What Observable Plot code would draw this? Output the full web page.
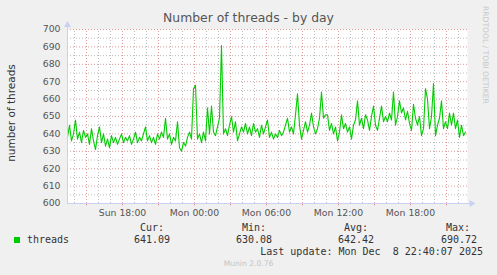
<!DOCTYPE html>
<html>
<head>
<meta charset="utf-8">
<script src="https://cdn.jsdelivr.net/npm/d3@7"></script>
<script src="https://cdn.jsdelivr.net/npm/@observablehq/plot@0.6"></script>
<style>
  html, body { margin: 0; padding: 0; background: #f0f0f0; }
  #wrap { position: relative; width: 497px; height: 275px; overflow: hidden; background: #f0f0f0; }
  .t { position: absolute; white-space: pre; line-height: 1; }
  .mono { font-family: "DejaVu Sans Mono", monospace; font-size: 10px; color: #333; }
  #chart { position: absolute; left: 0; top: 0; }
</style>
</head>
<body>
<div id="wrap">
  <div id="chart"></div>
  <div class="t" id="title" style="left:0;width:497px;text-align:center;top:12px;font-family:'DejaVu Sans';font-size:12.4px;color:#555;">Number of threads - by day</div>
  <div class="t" id="ylabel" style="left:11px;top:113px;font-family:'DejaVu Sans';font-size:10.5px;color:#333;transform:translate(-50%,-50%) rotate(-90deg);">number of threads</div>
  <div class="t" style="left:481px;top:6px;font-family:'DejaVu Sans';font-size:7.6px;color:#c8c8c8;writing-mode:vertical-rl;">RRDTOOL / TOBI OETIKER</div>
  <div id="legend"></div>
  <div class="t" style="left:0;width:497px;text-align:center;top:260px;font-family:'DejaVu Sans';font-size:7.6px;color:#c4c4c4;">Munin 2.0.76</div>
</div>
<script>
// ---- data ----
const seriesName = "threads";
const startTime = "2025-12-07T13:25:00Z"; // first sample
const stepMinutes = 10;
const threads = [
  638, 645, 636, 640, 648, 637, 641, 635, 642, 638,
  640, 634, 643, 636, 631, 639, 644, 635, 640, 633,
  637, 632, 639, 635, 638, 634, 637, 640, 635, 638,
  636, 639, 634, 637, 641, 635, 638, 636, 640, 644,
  636, 639, 635, 638, 634, 640, 637, 641, 638, 649,
  637, 640, 634, 638, 636, 647, 632, 630.08, 635, 633,
  638, 641, 637, 666, 668, 637, 640, 635, 641, 636,
  655, 640, 656, 641, 639, 644, 649, 690.72, 640, 643,
  639, 645, 650, 641, 647, 636, 640, 644, 641, 646,
  640, 644, 639, 646, 641, 643, 638, 645, 640, 644,
  648, 638, 641, 637, 640, 638, 642, 639, 641, 645,
  649, 641, 644, 640, 651, 663, 645, 637, 642, 647,
  641, 645, 652, 644, 640, 643, 649, 664, 649, 651,
  651, 642, 646, 640, 644, 636, 641, 651, 643, 646,
  641, 644, 637, 645, 648, 659, 645, 649, 643, 651,
  648, 642, 650, 656, 645, 642, 649, 656, 647, 650,
  647, 652, 648, 664, 645, 650, 659, 652, 655, 648,
  653, 646, 642, 657, 649, 645, 650, 639, 643, 666,
  660, 643, 650, 669, 639, 645, 649, 659, 643, 647,
  643, 652, 645, 652, 643, 648, 638, 645, 639, 641.09
];
const domainStart = "2025-12-07T13:25:00Z";
const domainEnd = "2025-12-08T22:45:00Z";
const xTickTimes = ["2025-12-07T18:00:00Z", "2025-12-08T00:00:00Z", "2025-12-08T06:00:00Z", "2025-12-08T12:00:00Z", "2025-12-08T18:00:00Z"];
const yTicks = [600, 610, 620, 630, 640, 650, 660, 670, 680, 690, 700];
const legendLabels = ["Cur:", "Min:", "Avg:", "Max:"];
const legendValues = ["641.09", "630.08", "642.42", "690.72"];
const lastUpdate = "Last update: Mon Dec  8 22:40:07 2025";

// ---- build ----
const t0 = new Date(startTime);
const data = threads.map((v, i) => ({ t: new Date(+t0 + i * stepMinutes * 60000), v }));
const x0 = new Date(domainStart), x1 = new Date(domainEnd);
const hourLines = d3.utcHour.range(new Date(+x0 + 1), x1);
const majorHours = hourLines.filter(d => d.getUTCHours() % 3 === 0);
const minorHours = hourLines.filter(d => d.getUTCHours() % 3 !== 0);
const yMajor = d3.range(610, 701, 10);
const yMinor = d3.range(605, 700, 10);
const axisColor = "#c9d1f2";
const days = ["Sun", "Mon", "Tue", "Wed", "Thu", "Fri", "Sat"];
const fmt = d => days[d.getUTCDay()] + " " + String(d.getUTCHours()).padStart(2, "0") + ":" + String(d.getUTCMinutes()).padStart(2, "0");

const chart = Plot.plot({
  width: 497,
  height: 222,
  marginLeft: 67,
  marginRight: 30,
  marginTop: 29,
  marginBottom: 19,
  style: { background: "transparent", fontFamily: "DejaVu Sans", fontSize: "9.3px", color: "#555", overflow: "visible" },
  x: { type: "utc", domain: [x0, x1] },
  y: { domain: [600, 700] },
  marks: [
    Plot.frame({ fill: "white", stroke: null }),
    Plot.ruleY(yMinor, { stroke: "#bdbdbd", strokeDasharray: "1,2" }),
    Plot.ruleX(minorHours, { y1: 600, y2: 700, stroke: "#bdbdbd", strokeDasharray: "1,2" }),
    Plot.ruleY(yMajor, { stroke: "#e09a9a", strokeDasharray: "1,2" }),
    Plot.ruleX(majorHours, { y1: 600, y2: 700, stroke: "#e09a9a", strokeDasharray: "1,2" }),
    Plot.ruleX(majorHours, { y1: 600, y2: 598.6, stroke: "#e09a9a" }),
    Plot.line(data, { x: "t", y: "v", stroke: "#00cc00", strokeWidth: 1.1 }),
    Plot.ruleX([x0], { y1: 600, y2: 702.5, stroke: axisColor }),
    Plot.ruleY([600], { x1: x0, x2: new Date(+x1 + 18 * 60000), stroke: axisColor }),
    Plot.dot([{ x: x0, y: 702.6 }], { x: "x", y: "y", symbol: "triangle", r: 2.6, fill: axisColor, stroke: null }),
    Plot.dot([{ x: new Date(+x1 + 20 * 60000), y: 600 }], { x: "x", y: "y", symbol: "triangle", r: 2.6, fill: axisColor, stroke: null, rotate: 90 }),
    Plot.axisY({ ticks: yTicks, tickSize: 0, tickPadding: 7, label: null, fill: "#555" }),
    Plot.axisX({ ticks: xTickTimes.map(d => new Date(d)), tickFormat: fmt, tickSize: 0, tickPadding: 6, label: null, fill: "#555" })
  ]
});
document.getElementById("chart").appendChild(chart);

// ---- legend ----
const legend = document.getElementById("legend");
const sq = document.createElement("div");
sq.style.cssText = "position:absolute;left:14px;top:237px;width:6px;height:6px;background:#00cc00;";
legend.appendChild(sq);
function addText(txt, right, left, top) {
  const d = document.createElement("div");
  d.className = "t mono";
  d.textContent = txt;
  d.style.top = top + "px";
  if (right != null) { d.style.right = (497 - right) + "px"; d.style.textAlign = "right"; }
  else d.style.left = left + "px";
  legend.appendChild(d);
}
addText(seriesName, null, 27, 235);
const labelRights = [164, 266, 368, 470];
const valueRights = [170, 272, 374, 477];
legendLabels.forEach((l, i) => addText(l, labelRights[i], null, 223));
legendValues.forEach((v, i) => addText(v, valueRights[i], null, 235));
addText(lastUpdate, 483, null, 247);
</script>
</body>
</html>
